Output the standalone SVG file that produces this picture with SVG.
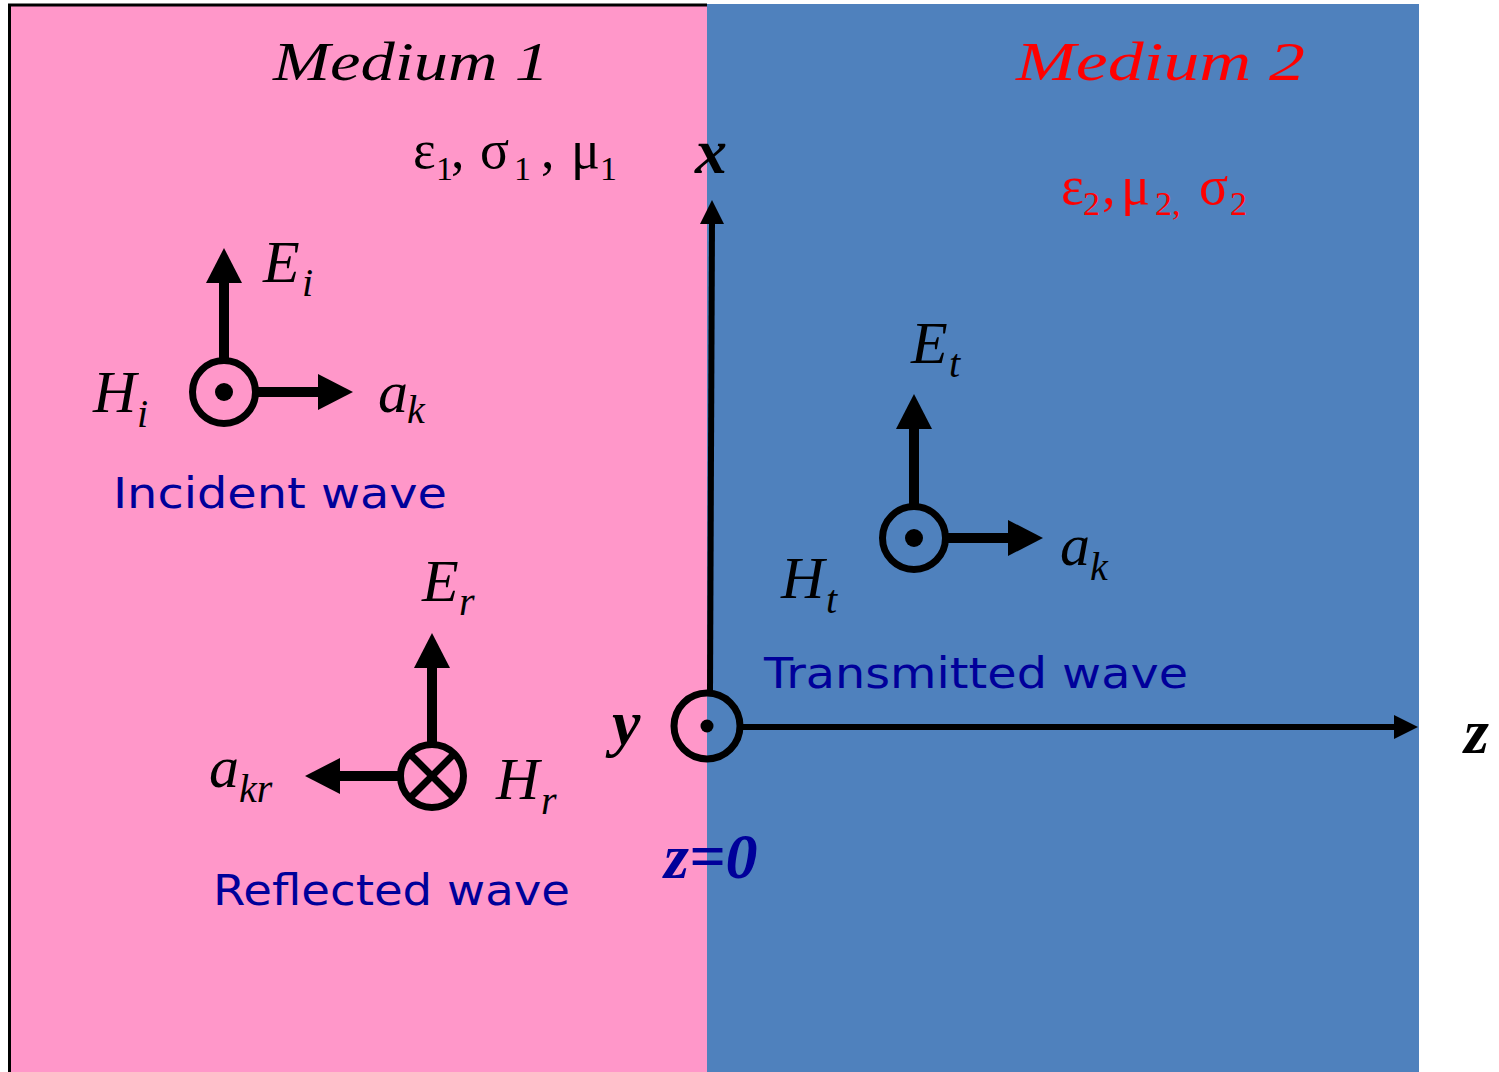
<svg xmlns="http://www.w3.org/2000/svg" xmlns:xlink="http://www.w3.org/1999/xlink" width="1499" height="1072" viewBox="0 0 1499 1072">
  <style>
    .it { font-family: "Liberation Serif", "Times New Roman", serif; font-style: italic; font-size: 60px; fill: #000; }
    .sub { font-size: 40px; }
    .axis { font-family: "Liberation Serif", "Times New Roman", serif; font-style: italic; font-weight: bold; font-size: 64px; fill: #000; }
    .wave { font-family: "DejaVu Sans", Verdana, sans-serif; font-size: 43px; fill: #00009A; }
    .medium { font-family: "Liberation Serif", "Times New Roman", serif; font-style: italic; font-size: 54px; }
    .prop { font-family: "Liberation Serif", "Times New Roman", serif; font-size: 54px; }
    .psub { font-size: 34px; }
    .ring { fill: none; stroke: #000; stroke-width: 7; }
    .shaft { stroke: #000; stroke-width: 10; fill: none; }
    .axline { stroke: #000; stroke-width: 6; fill: none; }
  </style>
  <defs>
    <path id="head" d="M0,0 L-35,-18 L-35,18 Z" fill="#000"/>
    <path id="axhead" d="M0,0 L-24,-12 L-24,12 Z" fill="#000"/>
  </defs>

  <!-- Backgrounds -->
  <g id="medium1-bg">
    <rect x="8" y="4" width="699" height="1068" fill="#FF97C9"/>
    <line x1="8" y1="5" x2="707" y2="5" stroke="#000" stroke-width="3"/>
    <line x1="9.5" y1="4" x2="9.5" y2="1072" stroke="#000" stroke-width="3"/>
  </g>
  <g id="medium2-bg">
    <rect x="707" y="4" width="712" height="1068" fill="#4F81BD"/>
  </g>

  <!-- Medium labels -->
  <g id="medium1-label">
    <text class="medium" x="273" y="80" fill="#000" textLength="276" lengthAdjust="spacingAndGlyphs">Medium 1</text>
    <text class="prop" fill="#000" y="168">
      <tspan x="413">ε</tspan><tspan class="psub" x="436" y="180">1</tspan><tspan x="451" y="168">,</tspan><tspan x="480">σ</tspan><tspan class="psub" x="514" y="180">1</tspan><tspan x="541" y="168">,</tspan><tspan x="571">μ</tspan><tspan class="psub" x="600" y="180">1</tspan>
    </text>
  </g>
  <g id="medium2-label">
    <text class="medium" x="1016" y="80" fill="#FF0000" textLength="289" lengthAdjust="spacingAndGlyphs">Medium 2</text>
    <text class="prop" fill="#FF0000" y="204">
      <tspan x="1061">ε</tspan><tspan class="psub" x="1083" y="215">2</tspan><tspan x="1102" y="204">,</tspan><tspan x="1121">μ</tspan><tspan class="psub" x="1155" y="215">2,</tspan><tspan x="1199" y="204">σ</tspan><tspan class="psub" x="1230" y="215">2</tspan>
    </text>
  </g>

  <!-- Coordinate axes -->
  <g id="connectors">
    <line class="axline" x1="710" y1="692" x2="712" y2="220"/>
    <use xlink:href="#axhead" href="#axhead" transform="translate(712,200) rotate(-90)"/>
    <line class="axline" x1="743" y1="727" x2="1397" y2="727"/>
    <use xlink:href="#axhead" href="#axhead" transform="translate(1418,727)"/>
  </g>
  <g id="origin">
    <circle cx="707" cy="726" r="33" fill="none" stroke="#000" stroke-width="7"/>
    <circle cx="707" cy="726" r="6.5" fill="#000"/>
    <text class="axis" x="695" y="173">x</text>
    <text class="axis" x="612" y="744">y</text>
    <text class="axis" x="1464" y="753">z</text>
    <text class="axis" x="664" y="878" style="fill:#00009A">z=0</text>
  </g>

  <!-- Incident wave -->
  <g id="incident">
    <circle class="ring" cx="224" cy="392" r="31.5"/>
    <circle cx="224" cy="392" r="9" fill="#000"/>
    <line class="shaft" x1="224" y1="358" x2="224" y2="280"/>
    <use xlink:href="#head" href="#head" transform="translate(224,248) rotate(-90)"/>
    <line class="shaft" x1="258" y1="392" x2="320" y2="392"/>
    <use xlink:href="#head" href="#head" transform="translate(353,392)"/>
    <text class="it" x="263" y="282">E<tspan class="sub" x="302" y="296">i</tspan></text>
    <text class="it" x="93" y="412">H<tspan class="sub" x="137" y="427">i</tspan></text>
    <text class="it" x="378" y="412">a<tspan class="sub" x="407" y="423">k</tspan></text>
    <text class="wave" x="113" y="508" textLength="334" lengthAdjust="spacingAndGlyphs">Incident wave</text>
  </g>

  <!-- Reflected wave -->
  <g id="reflected">
    <circle class="ring" cx="432" cy="776" r="31.5"/>
    <line x1="410" y1="754" x2="454" y2="798" stroke="#000" stroke-width="7"/>
    <line x1="410" y1="798" x2="454" y2="754" stroke="#000" stroke-width="7"/>
    <line class="shaft" x1="432" y1="742" x2="432" y2="665"/>
    <use xlink:href="#head" href="#head" transform="translate(432,633) rotate(-90)"/>
    <line class="shaft" x1="398" y1="776" x2="338" y2="776"/>
    <use xlink:href="#head" href="#head" transform="translate(305,776) rotate(180)"/>
    <text class="it" x="422" y="601">E<tspan class="sub" x="459" y="615">r</tspan></text>
    <text class="it" x="496" y="799">H<tspan class="sub" x="541" y="814">r</tspan></text>
    <text class="it" x="209" y="787">a<tspan class="sub" x="239" y="802">kr</tspan></text>
    <text class="wave" x="213" y="905" textLength="357" lengthAdjust="spacingAndGlyphs">Reflected wave</text>
  </g>

  <!-- Transmitted wave -->
  <g id="transmitted">
    <circle class="ring" cx="914" cy="538" r="31.5"/>
    <circle cx="914" cy="538" r="9" fill="#000"/>
    <line class="shaft" x1="914" y1="504" x2="914" y2="426"/>
    <use xlink:href="#head" href="#head" transform="translate(914,394) rotate(-90)"/>
    <line class="shaft" x1="948" y1="538" x2="1010" y2="538"/>
    <use xlink:href="#head" href="#head" transform="translate(1043,538)"/>
    <text class="it" x="911" y="363">E<tspan class="sub" x="949" y="377">t</tspan></text>
    <text class="it" x="781" y="598">H<tspan class="sub" x="826" y="613">t</tspan></text>
    <text class="it" x="1060" y="565">a<tspan class="sub" x="1090" y="580">k</tspan></text>
    <text class="wave" x="764" y="688" textLength="424" lengthAdjust="spacingAndGlyphs">Transmitted wave</text>
  </g>
</svg>
